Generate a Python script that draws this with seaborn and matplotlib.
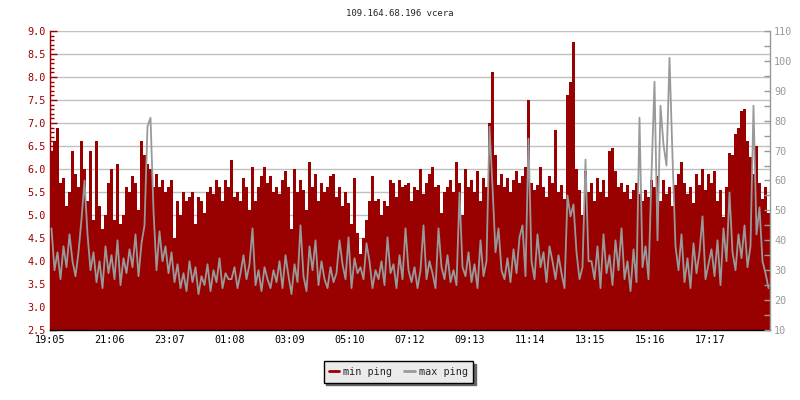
import numpy as np
import matplotlib
matplotlib.use("Agg")
import matplotlib.pyplot as plt
from matplotlib.ticker import MultipleLocator
import seaborn as sns


# ==========================================
# DATA (one value per ~6 min)
# ==========================================

title_text = "109.164.68.196 vcera"

tick_labels = [
    "19:05", "21:06", "23:07", "01:08", "03:09", "05:10",
    "07:12", "09:13", "11:14", "13:15", "15:16", "17:17"
]

# min ping (left axis)
min_ping = [
    6.4, 6.6, 6.9, 5.7, 5.8, 5.2, 5.5, 6.4, 5.9, 5.6,
    6.6, 6.0, 5.3, 6.4, 4.9, 6.6, 5.2, 4.7, 5.0, 5.7,
    6.0, 4.9, 6.1, 4.8, 5.0, 5.6, 5.5, 5.85, 5.7, 5.1,
    6.6, 6.3, 6.1, 6.0, 5.6, 5.9, 5.6, 5.75, 5.5, 5.6,
    5.75, 4.5, 5.3, 5.0, 5.5, 5.3, 5.4, 5.5, 4.8, 5.4,
    5.3, 5.05, 5.5, 5.6, 5.45, 5.75, 5.6, 5.3, 5.75, 5.6,

    6.2, 5.4, 5.5, 5.3, 5.8, 5.6, 5.1, 6.05, 5.3, 5.6,
    5.85, 6.05, 5.7, 5.85, 5.5, 5.6, 5.45, 5.75, 5.95, 5.6,
    4.7, 6.0, 5.5, 5.75, 5.55, 5.1, 6.15, 5.6, 5.9, 5.3,
    5.7, 5.5, 5.6, 5.85, 5.9, 5.4, 5.6, 5.2, 5.5, 5.25,
    4.8, 5.8, 4.6, 4.15, 4.5, 4.9, 5.3, 5.85, 5.3, 5.35,
    5.0, 5.3, 5.2, 5.75, 5.7, 5.4, 5.75, 5.6, 5.65, 5.7,

    5.3, 5.6, 5.55, 6.0, 5.45, 5.7, 5.9, 6.05, 5.6, 5.65,
    5.05, 5.5, 5.6, 5.75, 5.5, 6.15, 5.7, 5.0, 6.0, 5.6,
    5.75, 5.5, 5.95, 5.3, 5.8, 5.6, 7.0, 8.1, 6.3, 5.65,
    5.9, 5.6, 5.8, 5.5, 5.75, 5.95, 5.7, 5.85, 6.05, 7.5,
    5.7, 5.55, 5.65, 6.05, 5.6, 5.4, 5.85, 5.7, 6.85, 5.5,
    5.65, 5.35, 7.6, 7.9, 8.75, 6.0, 5.55, 5.0, 5.95, 5.5,

    5.7, 5.3, 5.8, 5.5, 5.75, 5.4, 6.4, 6.45, 5.95, 5.6,
    5.7, 5.5, 5.65, 5.35, 5.55, 5.7, 5.45, 5.3, 5.55, 5.4,
    5.75, 5.6, 5.85, 5.3, 5.75, 5.45, 5.6, 5.2, 5.65, 5.9,
    6.15, 5.7, 5.45, 5.6, 5.25, 5.9, 5.65, 6.0, 5.55, 5.9,
    5.7, 5.95, 5.3, 5.55, 4.95, 5.6, 6.35, 6.3, 6.75, 6.9,
    7.25, 7.3, 6.6, 6.25, 5.9, 6.5, 5.7, 5.35, 5.6, 5.05
]

# max ping (right axis)
max_ping = [
    44, 30, 36, 27, 38, 31, 42, 33, 28, 36,
    47, 60, 42, 30, 36, 26, 33, 24, 38, 29,
    35, 27, 40, 25, 34, 29, 37, 31, 42, 28,
    39, 45, 78, 81, 50, 30, 43, 33, 38, 29,
    36, 26, 32, 24, 29, 23, 33, 26, 31, 22,
    28, 25, 32, 23, 30, 26, 34, 24, 29, 27,

    27, 31, 24, 29, 35, 27, 32, 44, 25, 30,
    23, 31, 27, 24, 30, 26, 33, 24, 35, 28,
    22, 32, 26, 45, 28, 23, 38, 30, 40, 25,
    33, 27, 24, 31, 26, 29, 40, 32, 27, 41,
    24, 34, 29, 31, 27, 39, 33, 24, 30, 27,
    33, 25, 41, 29, 32, 24, 35, 27, 44, 30,

    26, 31, 24, 30, 45, 27, 33, 29, 24, 44,
    31, 27, 35, 26, 30, 25, 56, 31, 28, 36,
    26, 32, 24, 40, 28, 33, 78, 58, 36, 44,
    30, 27, 34, 26, 37, 29, 41, 45, 28, 74,
    33, 27, 42, 31, 36, 26, 38, 33, 27, 35,
    29, 24, 55, 48, 52, 36, 27, 31, 67, 33,

    33, 27, 38, 24, 42, 29, 35, 25, 40, 30,
    44, 27, 33, 23, 37, 26, 81, 31, 38, 27,
    62, 93, 40, 85, 72, 65, 101, 68, 38, 30,
    42, 26, 34, 24, 39, 29, 36, 48, 27, 32,
    37, 28, 40, 25, 44, 33, 56, 36, 30, 42,
    34, 45, 31, 38, 85, 42, 51, 33, 29, 24
]


# ==========================================
# STYLE
# ==========================================

sns.set_style("white")

plt.rcParams["font.family"] = ["DejaVu Sans Mono", "DejaVu Sans"]

red = "#990000"
grey = "#999999"

total_minutes = 1454
tick_step = 121.15

n = len(min_ping)
step = total_minutes / n
edges = np.arange(n + 1) * step
centers = (np.arange(n) + 0.5) * step

fig = plt.figure(figsize=(8, 4), dpi=100)

ax = fig.add_axes([0.0625, 0.175, 0.9, 0.7475])

# ------------------------------------------
# MIN PING AREA
# ------------------------------------------

ax.fill_between(
    edges,
    np.append(min_ping, min_ping[-1]),
    0,
    step="post",
    color=red,
    linewidth=0,
    zorder=2
)

ax.set_xlim(0, total_minutes)
ax.set_ylim(2.5, 9.0)

ax.yaxis.set_major_locator(MultipleLocator(0.5))
ax.yaxis.set_minor_locator(MultipleLocator(0.1))

ax.grid(axis="y", color="#c0c0c0", linewidth=1, zorder=0)
ax.grid(axis="x", visible=False)
ax.set_axisbelow(True)

ax.set_xticks([k * tick_step for k in range(len(tick_labels))])
ax.set_xticklabels(tick_labels)

ax.tick_params(
    axis="y", which="both", direction="in",
    colors=red, labelsize=7.3, pad=3
)
ax.tick_params(axis="y", which="major", length=5, width=1)
ax.tick_params(axis="y", which="minor", length=3, width=1)
ax.tick_params(
    axis="x", direction="in", length=5, width=1,
    colors="black", labelsize=7.3, pad=3.5
)

ax.spines["left"].set_color(red)
ax.spines["bottom"].set_color("black")
ax.spines["top"].set_visible(False)
ax.spines["right"].set_visible(False)
for side in ["left", "bottom"]:
    ax.spines[side].set_linewidth(1)

ax.set_xlabel("")
ax.set_ylabel("")

# ------------------------------------------
# MAX PING LINE
# ------------------------------------------

ax2 = ax.twinx()

sns.lineplot(
    x=centers,
    y=max_ping,
    ax=ax2,
    color=grey,
    linewidth=1.3,
    estimator=None,
    sort=False
)

ax2.set_xlim(0, total_minutes)
ax2.set_ylim(10, 110)
ax2.yaxis.set_major_locator(MultipleLocator(10))
ax2.yaxis.set_minor_locator(MultipleLocator(5))
ax2.tick_params(
    axis="y", which="both", direction="in",
    colors=grey, labelsize=7.3, pad=3, length=4, width=1
)
ax2.spines["right"].set_color(grey)
ax2.spines["right"].set_linewidth(1)
for side in ["left", "top", "bottom"]:
    ax2.spines[side].set_visible(False)
ax2.grid(False)
ax2.set_ylabel("")

# ------------------------------------------
# TITLE AND LEGEND
# ------------------------------------------

fig.text(0.5, 0.967, title_text, ha="center", va="center", fontsize=6.5)

handles = [
    plt.Line2D([], [], color=red, linewidth=2),
    plt.Line2D([], [], color=grey, linewidth=2)
]

fig.legend(
    handles,
    ["min ping", "max ping"],
    loc="center",
    bbox_to_anchor=(0.498, 0.07),
    ncol=2,
    fontsize=7.3,
    frameon=True,
    fancybox=False,
    shadow={"color": "#666666", "alpha": 1},
    facecolor="#ebebeb",
    edgecolor="black",
    framealpha=1,
    handlelength=1.0,
    handletextpad=0.4,
    columnspacing=1.2,
    borderpad=0.55
)

fig.savefig("out.png", dpi=100)
